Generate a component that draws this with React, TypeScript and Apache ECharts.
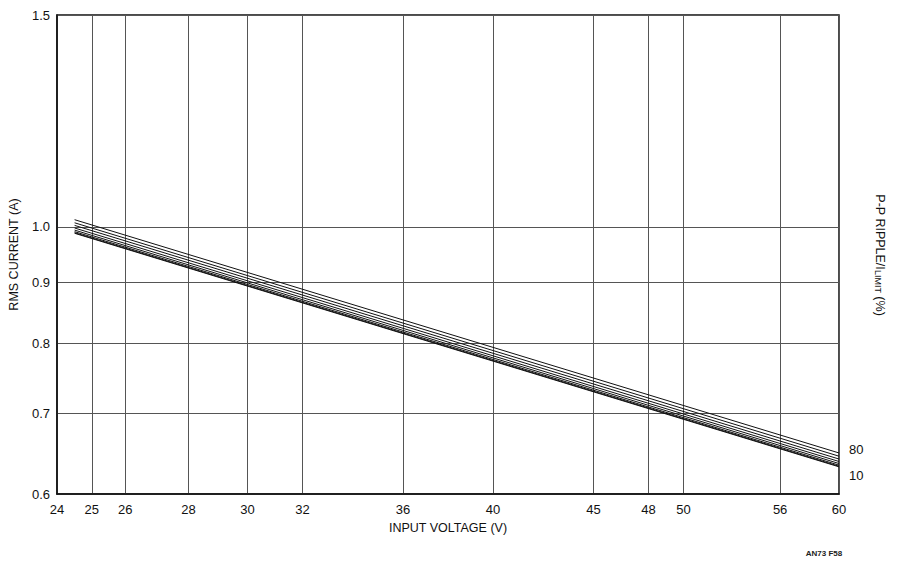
import React, { useEffect, useRef } from "react";
import * as echarts from "echarts";

// Axis ticks (real units)
const xTicks = [24, 25, 26, 28, 30, 32, 36, 40, 45, 48, 50, 56, 60];
const yTicks = [0.6, 0.7, 0.8, 0.9, 1.0, 1.5];
const xRange = [24, 60];
const yRange = [0.6, 1.5];

// Input voltage points of each curve
const voltages = [24.5, 60];

// RMS current (A) for each P-P ripple / I_LIMIT (%)
const ripple = [10, 20, 30, 40, 50, 60, 70, 80];
const rms10 = [0.988, 0.632];
const rms20 = [0.989, 0.6327];
const rms30 = [0.991, 0.634];
const rms40 = [0.994, 0.636];
const rms50 = [0.998, 0.6385];
const rms60 = [1.003, 0.6415];
const rms70 = [1.008, 0.645];
const rms80 = [1.014, 0.649];
const rmsSeries = [rms10, rms20, rms30, rms40, rms50, rms60, rms70, rms80];

const FONT = "'Liberation Sans Narrow', 'Liberation Sans', Arial, sans-serif";
const lg = (v: number) => Math.log10(v);

export default function App() {
  const ref = useRef<HTMLDivElement>(null);
  useEffect(() => {
    if (!ref.current) return;
    const chart = echarts.init(ref.current, null, { renderer: "svg" });
    const series = rmsSeries.map((vals, i) => {
      const pct = ripple[i];
      const isEnd = i === 0 || i === rmsSeries.length - 1;
      return {
        type: "line",
        name: String(pct),
        data: vals.map((v, j) => [lg(voltages[j]), lg(v)]),
        showSymbol: false,
        symbol: "none",
        lineStyle: { color: "#111", width: 1 },
        silent: true,
        endLabel: isEnd
          ? {
              show: true,
              formatter: String(pct),
              distance: 10,
              offset: i === 0 ? [0, 9] : [0, -3],
              color: "#111",
              fontSize: 13,
              fontFamily: FONT,
            }
          : { show: false },
      };
    });
    chart.setOption({
      animation: false,
      backgroundColor: "#fff",
      grid: {
        left: 57,
        top: 15,
        width: 782,
        height: 479,
        show: true,
        borderColor: "#111",
        borderWidth: 1.5,
        containLabel: false,
        outerBoundsMode: "none",
      },
      xAxis: {
        type: "value",
        min: lg(xRange[0]),
        max: lg(xRange[1]),
        name: "INPUT VOLTAGE (V)",
        nameLocation: "middle",
        nameGap: 27,
        nameTextStyle: { color: "#111", fontSize: 12.5, fontFamily: FONT },
        axisLine: { show: true, onZero: false, lineStyle: { color: "#111", width: 1.5 } },
        axisTick: { show: false, customValues: xTicks.map(lg) },
        axisLabel: {
          customValues: xTicks.map(lg),
          formatter: (v: number) => String(Math.round(Math.pow(10, v))),
          color: "#111",
          fontSize: 13,
          fontFamily: FONT,
          margin: 9,
        },
        splitLine: { show: true, lineStyle: { color: "#555", width: 1 } },
      },
      yAxis: {
        type: "value",
        min: lg(yRange[0]),
        max: lg(yRange[1]),
        name: "RMS CURRENT (A)",
        nameLocation: "middle",
        nameGap: 37,
        nameTextStyle: { color: "#111", fontSize: 12.5, fontFamily: FONT },
        axisLine: { show: true, onZero: false, lineStyle: { color: "#111", width: 1.5 } },
        axisTick: { show: false, customValues: yTicks.map(lg) },
        axisLabel: {
          customValues: yTicks.map(lg),
          formatter: (v: number) => Math.pow(10, v).toFixed(1),
          color: "#111",
          fontSize: 13,
          fontFamily: FONT,
          margin: 7,
        },
        splitLine: { show: true, lineStyle: { color: "#555", width: 1 } },
      },
      graphic: [
        {
          type: "text",
          x: 880,
          y: 255,
          rotation: -Math.PI / 2,
          style: {
            text: "{a|P-P RIPPLE/I}{b|LIMIT}{a| (%)}",
            align: "center",
            verticalAlign: "middle",
            fill: "#111",
            rich: {
              a: { fontSize: 12.5, fontFamily: FONT, fill: "#111" },
              b: { fontSize: 9, fontFamily: FONT, fill: "#111", padding: [4, 0, 0, 0] },
            },
          },
        },
        {
          type: "text",
          x: 824,
          y: 553,
          style: {
            text: "AN73 F58",
            align: "center",
            verticalAlign: "middle",
            fill: "#222",
            fontSize: 8,
            fontWeight: "bold",
            fontFamily: FONT,
          },
        },
      ],
      series,
    });
    return () => chart.dispose();
  }, []);
  return (
    <div
      ref={ref}
      style={{ position: "fixed", left: 0, top: 0, width: 900, height: 566 }}
    />
  );
}
